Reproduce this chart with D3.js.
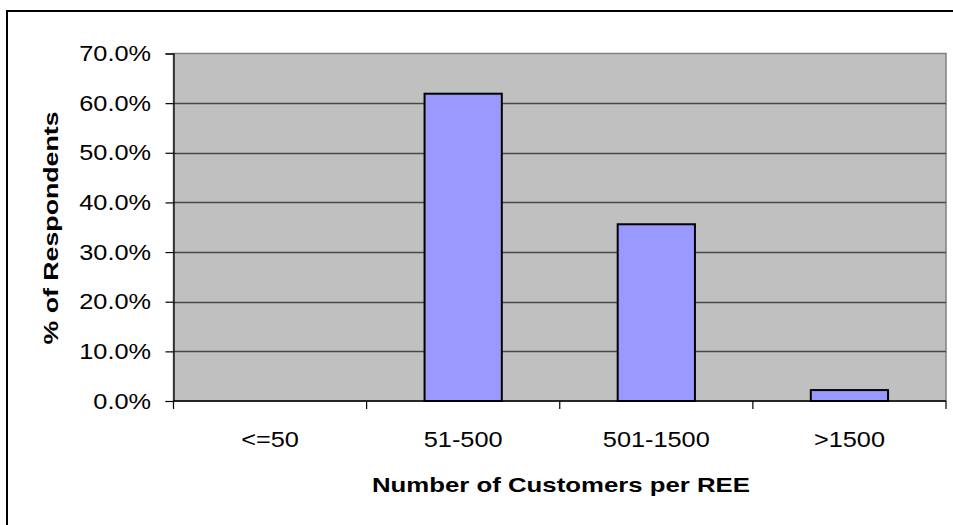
<!DOCTYPE html>
<html>
<head>
<meta charset="utf-8">
<script src="https://cdn.jsdelivr.net/npm/d3@7"></script>
<style>
  html, body { margin: 0; padding: 0; background: #fff; }
  svg { display: block; }
  text { font-family: "Liberation Sans", Arial, sans-serif; fill: #000; }
</style>
</head>
<body>
<svg id="chart" width="953" height="525"></svg>
<script>
// Customers per REE survey
const categories = ["<=50", "51-500", "501-1500", ">1500"];
const shares = [0.0, 61.9, 35.6, 2.2];
const yTicks = [0, 10, 20, 30, 40, 50, 60, 70];
const xTitle = "Number of Customers per REE";
const yTitle = "% of Respondents";

const svg = d3.select("#chart");
const W = 953, H = 525;
const plot = { left: 173.5, right: 946, top: 53.5, bottom: 401 };
const labelStretch = 1.15;   // labels are drawn a little wide

// widen a text selection horizontally while keeping its anchor
function stretch(sel, k) {
  sel.each(function () {
    const len = this.getComputedTextLength();
    d3.select(this)
      .attr("textLength", len * k)
      .attr("lengthAdjust", "spacingAndGlyphs");
  });
}

// outer chart frame (extends past the right and bottom edges)
svg.append("rect")
  .attr("x", 7).attr("y", 11)
  .attr("width", W + 20).attr("height", H + 20)
  .attr("fill", "#fff").attr("stroke", "#000").attr("stroke-width", 2);

const x = d3.scaleBand()
  .domain(categories)
  .range([plot.left, plot.right])
  .paddingInner(0.6)
  .paddingOuter(0.3);

const y = d3.scaleLinear()
  .domain([0, 70])
  .range([plot.bottom, plot.top]);

// plot area
svg.append("rect")
  .attr("x", plot.left).attr("y", plot.top)
  .attr("width", plot.right - plot.left).attr("height", plot.bottom - plot.top)
  .attr("fill", "#c0c0c0")
  .attr("stroke", "#808080").attr("stroke-width", 1.5);

// horizontal gridlines
svg.append("g")
  .selectAll("line")
  .data(yTicks.filter(d => d > 0 && d < 70))
  .join("line")
  .attr("x1", plot.left).attr("x2", plot.right)
  .attr("y1", d => Math.round(y(d)) + 0.5).attr("y2", d => Math.round(y(d)) + 0.5)
  .attr("stroke", "#484848").attr("stroke-width", 1.3);

// bars
svg.append("g")
  .selectAll("rect")
  .data(categories.map((c, i) => ({ c, v: shares[i] })).filter(d => d.v > 0))
  .join("rect")
  .attr("x", d => x(d.c))
  .attr("y", d => y(d.v))
  .attr("width", x.bandwidth())
  .attr("height", d => y(0) - y(d.v))
  .attr("fill", "#9999ff")
  .attr("stroke", "#000")
  .attr("stroke-width", 2);

// y axis
const yAxis = d3.axisLeft(y)
  .tickValues(yTicks)
  .tickSize(8)
  .tickPadding(14.5)
  .tickFormat(d => d3.format(".1f")(d) + "%");
const gy = svg.append("g")
  .attr("transform", `translate(${plot.left},0)`)
  .call(yAxis);
gy.select(".domain").attr("stroke", "#000").attr("stroke-width", 1.2);
gy.selectAll(".tick line").attr("stroke", "#000").attr("stroke-width", 1.2);
gy.selectAll(".tick text")
  .attr("font-size", 22)
  .attr("font-family", "'Liberation Sans', Arial, sans-serif")
  .call(stretch, labelStretch);

// x axis: ticks on category boundaries
const gx = svg.append("g")
  .attr("transform", `translate(0,${plot.bottom})`);
gx.append("line")
  .attr("x1", plot.left).attr("x2", plot.right)
  .attr("y1", 0).attr("y2", 0)
  .attr("stroke", "#000").attr("stroke-width", 1.5);
const step = x.step();
const bounds = d3.range(categories.length + 1).map(i => plot.left + i * step);
gx.selectAll("line.tk")
  .data(bounds)
  .join("line")
  .attr("class", "tk")
  .attr("x1", d => d).attr("x2", d => d)
  .attr("y1", 0).attr("y2", 8)
  .attr("stroke", "#000").attr("stroke-width", 1.2);
gx.selectAll("text")
  .data(categories)
  .join("text")
  .attr("x", d => x(d) + x.bandwidth() / 2)
  .attr("y", 45.5)
  .attr("text-anchor", "middle")
  .attr("font-size", 22)
  .text(d => d)
  .call(stretch, labelStretch);

// axis titles
svg.append("text")
  .attr("x", 561).attr("y", 492)
  .attr("text-anchor", "middle")
  .attr("font-size", 21)
  .attr("font-weight", "bold")
  .attr("textLength", 378)
  .attr("lengthAdjust", "spacingAndGlyphs")
  .text(xTitle);

svg.append("text")
  .attr("transform", "translate(58,228) rotate(-90)")
  .attr("text-anchor", "middle")
  .attr("font-size", 21)
  .attr("font-weight", "bold")
  .attr("textLength", 233)
  .attr("lengthAdjust", "spacingAndGlyphs")
  .text(yTitle);
</script>
</body>
</html>
